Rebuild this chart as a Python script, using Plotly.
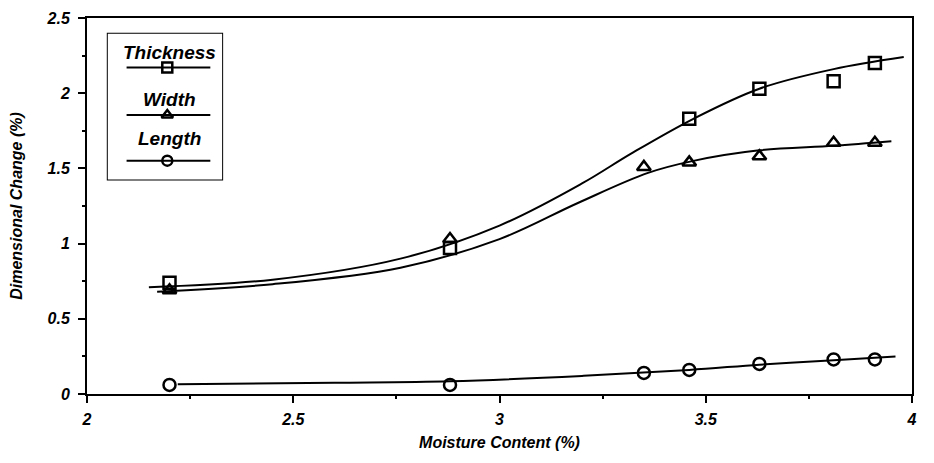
import plotly.graph_objects as go

# measured points
moisture = [2.2, 2.88, 3.35, 3.46, 3.63, 3.81, 3.91]
thick_x = [2.2, 2.88, 3.46, 3.63, 3.81, 3.91]
thickness = [0.74, 0.97, 1.83, 2.03, 2.08, 2.20]
width = [0.69, 1.03, 1.51, 1.54, 1.58, 1.67, 1.67]
length = [0.06, 0.06, 0.14, 0.16, 0.20, 0.23, 0.23]

# fitted curves
thick_fit_x = [2.15, 2.45, 2.76, 3.0, 3.2, 3.32, 3.47, 3.63, 3.81, 3.98]
thick_fit_y = [0.71, 0.76, 0.90, 1.12, 1.40, 1.60, 1.83, 2.03, 2.16, 2.24]
width_fit_x = [2.17, 2.45, 2.76, 3.0, 3.19, 3.36, 3.47, 3.63, 3.81, 3.95]
width_fit_y = [0.68, 0.73, 0.84, 1.03, 1.27, 1.47, 1.55, 1.62, 1.65, 1.68]
length_fit_x = [2.22, 2.6, 2.88, 3.2, 3.46, 3.63, 3.81, 3.96]
length_fit_y = [0.065, 0.075, 0.085, 0.12, 0.16, 0.195, 0.225, 0.25]

series_names = ["Thickness", "Width", "Length"]
symbols = ["square-open", "triangle-up-open", "circle-open"]

FONT = "Liberation Sans"
fnt = dict(family=FONT, size=16, color="black", weight=900, style="italic")

fig = go.Figure()

for fx, fy in [(thick_fit_x, thick_fit_y), (width_fit_x, width_fit_y), (length_fit_x, length_fit_y)]:
    fig.add_trace(go.Scatter(x=fx, y=fy, mode="lines", line=dict(color="black", width=2, shape="spline", smoothing=1),
                             showlegend=False, hoverinfo="skip"))

for xs, ys, sym in [(thick_x, thickness, symbols[0]), (moisture, width, symbols[1]), (moisture, length, symbols[2])]:
    fig.add_trace(go.Scatter(x=xs, y=ys, mode="markers",
                             marker=dict(symbol=sym, size=12, color="black", line=dict(color="black", width=2.5)),
                             showlegend=False))

# hand-made legend: label above a line sample with the marker in the middle
leg_text_y = [0.866, 0.55, 0.282]
leg_line_y = [0.765, 0.443, 0.134]
for name, sym, ty, ly in zip(series_names, symbols, leg_text_y, leg_line_y):
    fig.add_trace(go.Scatter(x=[0.17, 0.89], y=[ly, ly], mode="lines", line=dict(color="black", width=2),
                             xaxis="x2", yaxis="y2", showlegend=False, hoverinfo="skip"))
    fig.add_trace(go.Scatter(x=[0.52], y=[ly], mode="markers", xaxis="x2", yaxis="y2",
                             marker=dict(symbol=sym, size=10, color="black", line=dict(color="black", width=2.5)),
                             showlegend=False, hoverinfo="skip"))
    fig.add_annotation(x=0.54, y=ty, xref="x2", yref="y2", text=name, showarrow=False,
                       font=dict(family=FONT, size=19, color="black", weight=900, style="italic"))

fig.add_shape(type="rect", xref="x2", yref="y2", x0=0, x1=1, y0=0, y1=1, line=dict(color="black", width=2))

fig.update_layout(
    width=934, height=463,
    margin=dict(l=79, r=30, t=10, b=77),
    plot_bgcolor="white", paper_bgcolor="white",
    font=fnt,
    xaxis=dict(range=[2, 4], dtick=0.5, showgrid=False, zeroline=False, showline=True, linecolor="black",
               linewidth=2, mirror=True, ticks="outside", ticklen=7, tickwidth=2, tickcolor="black",
               minor=dict(dtick=0.25, ticks="outside", ticklen=3, tickwidth=2, tickcolor="black"),
               tickfont=fnt, automargin=False, ticklabelstandoff=3, ticklabeloverflow="allow",
               title=dict(text="Moisture Content (%)", font=fnt, standoff=10)),
    yaxis=dict(range=[0, 2.5], dtick=0.5, showgrid=False, zeroline=False, showline=True, linecolor="black",
               linewidth=2, mirror=True, ticks="outside", ticklen=7, tickwidth=2, tickcolor="black",
               minor=dict(dtick=0.25, ticks="outside", ticklen=3, tickwidth=2, tickcolor="black"),
               tickfont=fnt, automargin=False, ticklabelstandoff=5, ticklabeloverflow="allow",
               title=dict(text="Dimensional Change (%)", font=fnt, standoff=22)),
    xaxis2=dict(domain=[0.024, 0.165], range=[0, 1], anchor="y2", visible=False, fixedrange=True),
    yaxis2=dict(domain=[0.568, 0.961], range=[0, 1], anchor="x2", visible=False, fixedrange=True),
)

fig.write_html("out.html")
